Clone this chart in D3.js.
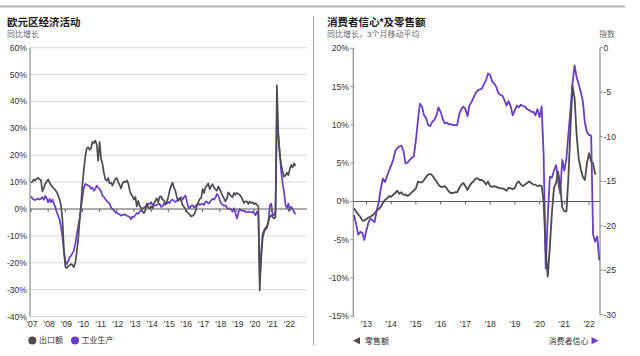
<!DOCTYPE html>
<html><head><meta charset="utf-8">
<script src="https://cdn.jsdelivr.net/npm/d3@7"></script>
<style>
html,body{margin:0;padding:0;background:#fff;}
svg{display:block;}
text{font-family:"Liberation Sans","Noto Sans CJK SC",sans-serif;}
</style></head>
<body>
<svg id="chart" width="640" height="356"></svg>
<script>
// ---------- DATA ----------
// Left panel: monthly, Jan 2007 - Jun 2022 (YoY %)
const leftStart = [2007, 0];
const exportsYoY = [
 9.8, 10.2, 11.0, 10.6, 11.2, 11.6, 11.0, 10.8, 6.5, 7.8, 9.4, 10.2,
 11.0, 9.8, 8.9, 8.2, 7.6, 7.0, 6.3, 5.0, 3.5, 1.2, -4.0, -15.0,
 -21.5, -22.0, -21.2, -21.0, -20.5, -20.8, -21.7, -20.0, -16.0, -11.5, -4.3, 1.5,
 9.4, 15.0, 19.5, 22.5, 23.0, 22.0, 22.5, 25.0, 24.5, 25.5, 24.0, 18.0,
 25.0, 18.5, 17.0, 13.5, 11.0, 10.5, 11.5, 9.6, 9.8, 8.7, 10.0, 11.2,
 11.5, 10.0, 9.0, 7.6, 9.4, 10.2, 10.0, 10.6, 9.5, 7.0, 5.5, 4.7,
 3.5, 4.5, 1.0, 3.0, 1.2, 0.5, -1.0, -1.5, -0.5, 2.0, 0.5, 0.2,
 1.0, 0.2, 2.0, 3.0, 4.0, 2.5, 4.5, 4.7, 3.5, 3.2, 2.0, 2.6,
 4.5, 7.0, 8.5, 9.8, 8.0, 6.8, 4.4, 3.0, 4.0, 3.2, 1.5, 0.8,
 0.0, -1.0, -1.5, -2.0, -2.8, -2.5, -2.1, -1.0, 1.4, 2.5, 3.8, 4.0,
 7.4, 6.0, 8.0, 8.6, 9.5, 7.4, 8.5, 9.2, 8.0, 7.2, 6.8, 8.4,
 7.4, 6.0, 5.0, 4.0, 2.8, 3.8, 6.2, 5.5, 4.7, 4.4, 6.0, 5.3,
 6.0, 5.5, 5.3, 4.5, 3.5, 2.2, 2.8, 2.8, 1.8, 2.8, 2.2, 2.5,
 1.8, 2.2, 1.5, 1.0, -30.3, -16.0, -9.5, -8.0, -7.0, -6.5, -4.5, -3.0,
 -2.3, -3.0, -3.5, -3.0, 46.0, 28.0, 20.0, 16.5, 14.0, 12.0, 12.5, 13.5,
 12.5, 15.0, 16.3, 15.5, 17.0, 16.0
];
const industrialYoY = [
 4.7, 3.9, 3.5, 3.3, 3.6, 3.9, 3.5, 3.8, 4.4, 3.4, 4.9, 4.0,
 2.4, 3.8, 2.5, 3.5, 2.0, 0.8, -1.2, -2.5, -4.0, -6.8, -10.5, -16.0,
 -19.3, -20.5, -19.5, -18.0, -17.4, -16.5, -15.5, -13.0, -9.5, -6.5, -3.5, 0.6,
 4.5, 8.0, 9.3, 9.0, 8.7, 8.5, 7.5, 8.0, 6.8, 7.5, 8.7, 8.0,
 7.4, 6.5, 5.0, 4.5, 3.7, 3.0, 2.5, 2.0, 0.6, 0.0, -0.5, -1.2,
 -1.5, -1.8, -2.0, -2.5, -2.3, -2.0, -2.1, -2.5, -2.7, -3.0, -3.8, -2.8,
 -3.0, -2.2, -1.5, -1.8, -1.0, -0.5, 0.2, 0.5, 0.8, 1.5, 2.0, 1.8,
 2.5, 1.6, 1.4, 1.2, 1.6, 1.8, 2.0, 0.8, 1.0, 2.0, 1.6, 2.0,
 2.6, 2.2, 3.2, 3.5, 3.0, 2.6, 3.0, 3.8, 3.6, 4.4, 3.5, 4.4,
 5.0, 2.8, 0.8, 0.2, 1.2, 1.4, 0.5, 1.2, 1.4, 2.2, 1.5, 1.8,
 2.0, 1.5, 2.6, 2.8, 2.0, 2.4, 3.2, 3.8, 3.5, 4.2, 5.6, 5.0,
 3.2, 2.0, 1.6, 1.2, 1.4, 0.5, 0.0, 0.2, -0.2, -1.0, 0.3, -1.5,
 -3.6, -1.5, 0.0, -0.5, -0.8, -0.5, -1.1, -1.2, -1.0, -1.1, -1.3, -1.0,
 -1.5, -2.3, -1.0, -2.0, -26.0, -18.0, -11.0, -8.6, -7.5, -7.2, -5.0, 1.4,
 2.0, -2.3, -2.3, -1.0, 33.0, 27.0, 21.0, 14.0, 9.5, 6.0, 1.5, 0.3,
 2.0, -0.5, 0.8, 0.0, -1.1, -2.0
];
const leftYTicks = [60, 50, 40, 30, 20, 10, 0, -10, -20, -30, -40];
const leftYearLabels = ["'07","'08","'09","'10","'11","'12","'13","'14","'15","'16","'17","'18","'19","'20","'21","'22"];
const leftLegend = ["出口额", "工业生产"];

// Right panel: monthly, Jul 2012 - Jun 2022
const rightStart = [2012, 6];
const retailSales3m = [
 -0.9, -1.3, -1.7, -2.0, -2.5, -2.5, -2.3, -2.1, -2.0, -1.8, -1.55, -1.2,
 -1.0, -0.7, -0.2, 0.2, 0.4, 0.7, 0.6, 0.9, 1.1, 1.4, 1.0, 1.2,
 0.85, 0.9, 0.7, 0.9, 1.2, 1.4, 1.7, 2.6, 2.5, 2.5, 2.8, 3.2,
 3.5, 3.6, 3.4, 3.0, 2.6, 2.2, 1.9, 1.9, 2.0, 1.7, 1.3, 1.1,
 1.1, 1.2, 1.2, 1.7, 2.2, 2.4, 2.0, 1.5, 2.0, 2.4, 2.6, 3.0,
 3.0, 2.8, 2.8, 2.6, 2.2, 2.6, 2.0, 1.9, 2.0, 1.9, 1.8, 1.7,
 1.7, 1.6, 1.4, 1.8, 1.7, 1.6, 1.8, 2.4, 2.6, 2.2, 2.0, 2.2,
 2.4, 2.6, 2.4, 2.2, 2.2, 2.0, 2.1, 2.0, 0.0, -6.5, -9.8, -5.9,
 -1.5, 1.8, 2.4, 3.9, 2.0, -0.8, -1.3, -1.3, 3.0, 9.5, 15.1, 13.5,
 8.7, 5.6, 4.2, 3.2, 2.8, 5.0, 6.3, 5.2, 5.0, 3.5
];
const consumerConfidence = [
 -18.8, -19.8, -21.0, -20.7, -20.8, -21.6, -20.5, -19.6, -19.2, -19.4, -19.6, -18.3,
 -17.4, -15.8, -14.7, -15.1, -14.4, -13.8, -13.2, -12.6, -11.6, -11.3, -11.1, -11.0,
 -11.6, -13.0, -12.9, -12.6, -12.4, -12.2, -10.4, -8.1, -6.3, -6.6, -7.6, -7.9,
 -8.7, -8.8, -8.3, -8.1, -7.6, -6.7, -7.2, -8.0, -8.5, -8.4, -8.6, -8.6,
 -8.7, -8.7, -8.7, -7.5, -6.9, -6.6, -6.9, -7.7, -6.5, -6.1, -5.6, -5.1,
 -4.8, -4.7, -4.6, -4.1, -3.65, -2.9, -3.1, -3.8, -4.0, -4.4, -5.1, -5.3,
 -5.4, -5.9, -6.5, -6.0, -6.6, -7.6, -7.0, -6.5, -6.7, -6.4, -6.6, -6.6,
 -6.9, -7.0, -7.2, -7.2, -7.6, -6.9, -7.8, -6.6, -12.0, -24.8, -19.0, -14.5,
 -14.6, -13.8, -13.2, -15.0, -16.4, -12.6, -13.8, -12.4, -9.8, -7.0, -4.0, -2.0,
 -3.3, -4.1, -5.0, -6.0, -8.5, -9.5, -9.8, -9.9, -21.0, -21.8, -21.2, -23.9
];
const rightLeftTicks = [20, 15, 10, 5, 0, -5, -10, -15];
const rightRightTicks = [0, -5, -10, -15, -20, -25, -30];
const rightYearLabels = ["'13","'14","'15","'16","'17","'18","'19","'20","'21","'22"];
const rightLegend = ["零售额", "消费者信心"];

// ---------- STYLE ----------
const GRAY = "#4b4c50", PURPLE = "#6a3ec6", AXIS = "#8c8c8c", GRID = "#dadada", TXT = "#333";
const FS = 8.6;

const svg = d3.select("#chart");
const monthDate = (start, i) => new Date(start[0], start[1] + i, 1);

// top rule + separator
svg.append("line").attr("x1", 0).attr("x2", 625).attr("y1", 6.5).attr("y2", 6.5)
  .attr("stroke", "#b3b3b3").attr("stroke-width", 2);
svg.append("line").attr("x1", 313.5).attr("x2", 313.5).attr("y1", 16).attr("y2", 345)
  .attr("stroke", "#a0a0a0").attr("stroke-width", 1);

// ================= LEFT PANEL =================
const L = svg.append("g");
L.append("text").attr("x", 7).attr("y", 26).attr("font-size", 10.5).attr("font-weight", "bold")
  .attr("fill", "#1a1a1a").text("欧元区经济活动");
L.append("text").attr("x", 7).attr("y", 36.5).attr("font-size", 8).attr("fill", "#6b6b6b").text("同比增长");

const xL = d3.scaleTime().domain([monthDate(leftStart, 0), monthDate(leftStart, exportsYoY.length - 1)]).range([31, 295.5]);
const yL = d3.scaleLinear().domain([-40, 60]).range([316.5, 47.7]);

// gridlines
L.selectAll(".grid").data(leftYTicks.filter(d => d !== 0)).enter().append("line")
  .attr("x1", 30).attr("x2", 307).attr("y1", d => yL(d)).attr("y2", d => yL(d))
  .attr("stroke", GRID).attr("stroke-width", 1);
// y labels
L.selectAll(".yl").data(leftYTicks).enter().append("text")
  .attr("x", 27).attr("y", d => yL(d)).attr("dy", "0.35em").attr("text-anchor", "end")
  .attr("font-size", FS).attr("fill", TXT).text(d => d + "%");
// y axis line
L.append("line").attr("x1", 30).attr("x2", 30).attr("y1", yL(60)).attr("y2", yL(-40))
  .attr("stroke", AXIS).attr("stroke-width", 1.2);

// series (purple under, gray on top)
const lineL = d3.line().x((d, i) => xL(monthDate(leftStart, i))).y(d => yL(d));
L.append("path").datum(industrialYoY).attr("d", lineL).attr("fill", "none")
  .attr("stroke", PURPLE).attr("stroke-width", 1.7).attr("stroke-linejoin", "round");
L.append("path").datum(exportsYoY).attr("d", lineL).attr("fill", "none")
  .attr("stroke", GRAY).attr("stroke-width", 1.7).attr("stroke-linejoin", "round");

// zero line and year ticks
L.append("line").attr("x1", 30).attr("x2", 307).attr("y1", yL(0)).attr("y2", yL(0))
  .attr("stroke", "#5a5a5a").attr("stroke-width", 1.1);
const leftYears = leftYearLabels.map((t, i) => new Date(2007 + i, 0, 1));
L.selectAll(".xt").data(leftYears).enter().append("line")
  .attr("x1", d => xL(d)).attr("x2", d => xL(d)).attr("y1", yL(0)).attr("y2", yL(0) + 3)
  .attr("stroke", "#5a5a5a").attr("stroke-width", 1);
L.selectAll(".xl").data(leftYearLabels).enter().append("text")
  .attr("x", (d, i) => xL(leftYears[i]) + 1).attr("y", 327).attr("text-anchor", "middle")
  .attr("font-size", FS).attr("fill", TXT).text(d => d);

// legend
const legL = L.append("g");
legL.append("circle").attr("cx", 32.3).attr("cy", 340.5).attr("r", 4).attr("fill", GRAY);
legL.append("text").attr("x", 39).attr("y", 340.5).attr("dy", "0.35em").attr("font-size", 8)
  .attr("fill", TXT).text(leftLegend[0]);
legL.append("circle").attr("cx", 75).attr("cy", 340.5).attr("r", 4).attr("fill", PURPLE);
legL.append("text").attr("x", 81.5).attr("y", 340.5).attr("dy", "0.35em").attr("font-size", 8)
  .attr("fill", TXT).text(leftLegend[1]);

// ================= RIGHT PANEL =================
const R = svg.append("g");
R.append("text").attr("x", 327).attr("y", 26).attr("font-size", 10.5).attr("font-weight", "bold")
  .attr("fill", "#1a1a1a").text("消费者信心*及零售额");
R.append("text").attr("x", 327).attr("y", 36.5).attr("font-size", 8).attr("fill", "#6b6b6b").text("同比增长，3个月移动平均");
R.append("text").attr("x", 599).attr("y", 36.5).attr("font-size", 8).attr("fill", "#6b6b6b").text("指数");

const xR = d3.scaleTime().domain([monthDate(rightStart, 0), monthDate(rightStart, consumerConfidence.length - 1)]).range([354, 599.3]);
const yRL = d3.scaleLinear().domain([-15, 20]).range([316.3, 48.3]);
const yRR = d3.scaleLinear().domain([-30, 0]).range([314.7, 47.7]);

// left axis
R.append("line").attr("x1", 353.3).attr("x2", 353.3).attr("y1", yRL(20)).attr("y2", yRL(-15))
  .attr("stroke", AXIS).attr("stroke-width", 1.2);
R.selectAll(".rlt").data(rightLeftTicks).enter().append("line")
  .attr("x1", 350.5).attr("x2", 353.3).attr("y1", d => yRL(d)).attr("y2", d => yRL(d))
  .attr("stroke", AXIS).attr("stroke-width", 1);
R.selectAll(".rll").data(rightLeftTicks).enter().append("text")
  .attr("x", 349).attr("y", d => yRL(d)).attr("dy", "0.35em").attr("text-anchor", "end")
  .attr("font-size", FS).attr("fill", TXT).text(d => d + "%");
// right axis
R.append("line").attr("x1", 600).attr("x2", 600).attr("y1", yRR(0)).attr("y2", yRR(-30))
  .attr("stroke", AXIS).attr("stroke-width", 1.2);
R.selectAll(".rrt").data(rightRightTicks).enter().append("line")
  .attr("x1", 600).attr("x2", 602.8).attr("y1", d => yRR(d)).attr("y2", d => yRR(d))
  .attr("stroke", AXIS).attr("stroke-width", 1);
R.selectAll(".rrl").data(rightRightTicks).enter().append("text")
  .attr("x", 603.5).attr("y", d => yRR(d)).attr("dy", "0.35em").attr("text-anchor", "start")
  .attr("font-size", FS).attr("fill", TXT).text(d => d);

// zero line
R.append("line").attr("x1", 353.3).attr("x2", 600).attr("y1", yRL(0)).attr("y2", yRL(0))
  .attr("stroke", "#5a5a5a").attr("stroke-width", 1.1);
const rightYears = rightYearLabels.map((t, i) => new Date(2013 + i, 0, 1));
R.selectAll(".rxt").data(rightYears).enter().append("line")
  .attr("x1", d => xR(d)).attr("x2", d => xR(d)).attr("y1", yRL(0)).attr("y2", yRL(0) + 3)
  .attr("stroke", "#5a5a5a").attr("stroke-width", 1);
R.selectAll(".rxl").data(rightYearLabels).enter().append("text")
  .attr("x", (d, i) => xR(rightYears[i])).attr("y", 326.5).attr("text-anchor", "middle")
  .attr("font-size", FS).attr("fill", TXT).text(d => d);

// series
const lineCC = d3.line().x((d, i) => xR(monthDate(rightStart, i))).y(d => yRR(d));
const lineRS = d3.line().x((d, i) => xR(monthDate(rightStart, i))).y(d => yRL(d));
R.append("path").datum(consumerConfidence).attr("d", lineCC).attr("fill", "none")
  .attr("stroke", PURPLE).attr("stroke-width", 1.8).attr("stroke-linejoin", "round");
R.append("path").datum(retailSales3m).attr("d", lineRS).attr("fill", "none")
  .attr("stroke", GRAY).attr("stroke-width", 1.8).attr("stroke-linejoin", "round");

// legend
const ly = 340.7;
R.append("path").attr("d", d3.line()([[353, ly], [360, ly - 3.6], [360, ly + 3.6]]) + "Z").attr("fill", GRAY);
R.append("text").attr("x", 365).attr("y", ly).attr("dy", "0.35em").attr("font-size", 8)
  .attr("fill", TXT).text(rightLegend[0]);
R.append("text").attr("x", 588.5).attr("y", ly).attr("dy", "0.35em").attr("text-anchor", "end")
  .attr("font-size", 8).attr("fill", TXT).text(rightLegend[1]);
R.append("path").attr("d", d3.line()([[598.5, ly], [591.5, ly - 3.6], [591.5, ly + 3.6]]) + "Z").attr("fill", PURPLE);
</script>
</body></html>
